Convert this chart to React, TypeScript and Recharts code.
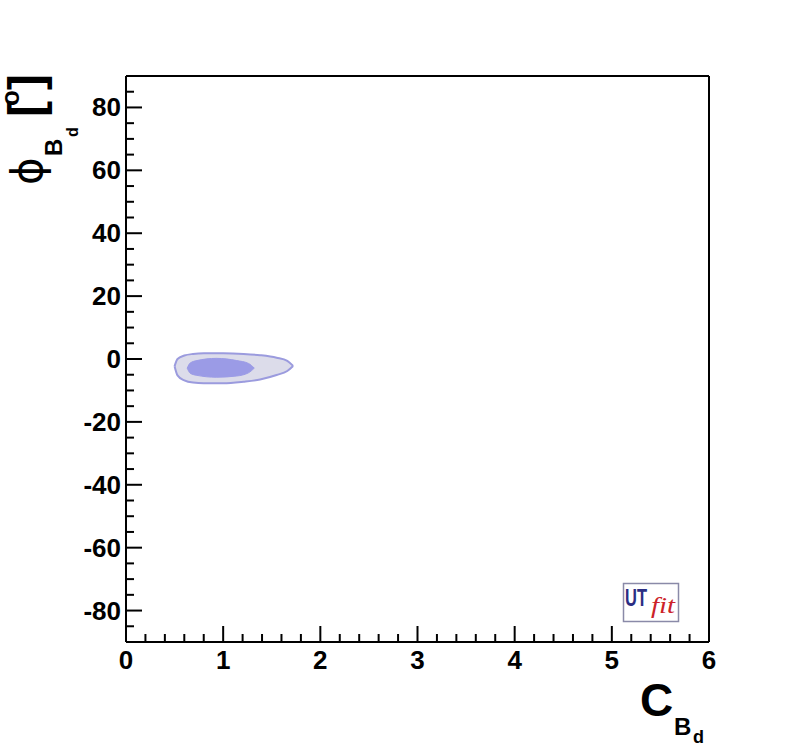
import { ComposedChart, Area, XAxis, YAxis, ReferenceLine } from "recharts";

// contour x positions (C_Bd) and y ranges (phi_Bd, degrees)
const contourX = [0.5, 0.53, 0.6, 0.63, 0.66, 0.69, 0.73, 0.8, 0.93, 1.0, 1.14, 1.21, 1.26, 1.32, 1.38, 1.55, 1.66, 1.72];
const outerRange: ([number, number] | null)[] = [
  [-2.3, -2.3], [-5.2, 0.0], [-6.8, 1.1], null, null, [-7.5, 1.6], null, [-7.7, 1.8], null,
  [-7.7, 1.8], null, [-7.2, 1.6], null, null, [-6.5, 1.2], [-5.1, 0.4], [-3.8, -0.6], [-2.2, -2.2],
];
const innerRange: ([number, number] | null)[] = [
  null, null, null, [-2.9, -2.9], [-4.5, -1.3], null, [-5.2, -0.5], null, [-5.8, 0.2],
  null, [-5.4, -0.5], null, [-4.4, -1.4], [-2.9, -2.9], null, null, null, null,
];

const xTicks = [
  0, 0.2, 0.4, 0.6, 0.8, 1, 1.2, 1.4, 1.6, 1.8, 2, 2.2, 2.4, 2.6, 2.8, 3, 3.2, 3.4, 3.6, 3.8,
  4, 4.2, 4.4, 4.6, 4.8, 5, 5.2, 5.4, 5.6, 5.8, 6,
];
const yTicks = [
  -85, -80, -75, -70, -65, -60, -55, -50, -45, -40, -35, -30, -25, -20, -15, -10, -5, 0,
  5, 10, 15, 20, 25, 30, 35, 40, 45, 50, 55, 60, 65, 70, 75, 80, 85,
];
const yMajor = [-80, -60, -40, -20, 0, 20, 40, 60, 80];

const data = contourX.map((x, i) => ({ x, outer: outerRange[i], inner: innerRange[i] }));

const FONT = "'Liberation Sans', Arial, Helvetica, sans-serif";

const XTick = (props: any) => {
  const { x, y, payload } = props;
  const v = payload.value;
  const major = Number.isInteger(v);
  return (
    <g>
      <line x1={x} y1={y} x2={x} y2={y - (major ? 16 : 8)} stroke="#000" strokeWidth={2} />
      {major && (
        <text x={x} y={y + 27} textAnchor="middle" fontSize={26} fontWeight="bold" fontFamily={FONT} fill="#000">
          {v}
        </text>
      )}
    </g>
  );
};

const YTick = (props: any) => {
  const { x, y, payload } = props;
  const v = payload.value;
  const major = yMajor.includes(v);
  return (
    <g>
      <line x1={x} y1={y} x2={x + (major ? 16 : 8)} y2={y} stroke="#000" strokeWidth={2} />
      {major && (
        <text x={x - 5} y={y + 9} textAnchor="end" fontSize={26} fontWeight="bold" fontFamily={FONT} fill="#000">
          {v}
        </text>
      )}
    </g>
  );
};

export default function App() {
  return (
    <div style={{ position: "absolute", left: 0, top: 0, width: 788, height: 756, background: "#fff" }}>
      <ComposedChart
        width={788}
        height={756}
        data={data}
        margin={{ top: 76, right: 79, bottom: 0, left: 0 }}
      >
        <XAxis
          dataKey="x"
          type="number"
          domain={[0, 6]}
          ticks={xTicks}
          interval={0}
          allowDataOverflow
          height={114}
          tickSize={0}
          tickMargin={0}
          tickLine={false}
          axisLine={{ stroke: "#000", strokeWidth: 2 }}
          tick={<XTick />}
        />
        <YAxis
          type="number"
          domain={[-90, 90]}
          ticks={yTicks}
          interval={0}
          allowDataOverflow
          width={126}
          tickSize={0}
          tickMargin={0}
          tickLine={false}
          axisLine={{ stroke: "#000", strokeWidth: 2 }}
          tick={<YTick />}
        />
        <Area
          dataKey="outer"
          type="monotone"
          connectNulls
          fill="#dcdcea"
          fillOpacity={1}
          stroke="#9b9bde"
          strokeWidth={2}
          dot={false}
          activeDot={false}
          isAnimationActive={false}
        />
        <Area
          dataKey="inner"
          type="monotone"
          connectNulls
          fill="#9b9be6"
          fillOpacity={1}
          stroke="#9b9be6"
          strokeWidth={1}
          dot={false}
          activeDot={false}
          isAnimationActive={false}
        />
        <ReferenceLine y={90} stroke="#000" strokeWidth={2} />
        <ReferenceLine x={6} stroke="#000" strokeWidth={2} />
      </ComposedChart>

      <svg
        width={788}
        height={756}
        style={{ position: "absolute", left: 0, top: 0, pointerEvents: "none" }}
      >
        {/* y title: phi_{B_d} [o] */}
        <g fontFamily={FONT} fill="#000">
          <text transform="translate(42,185) rotate(-90)" fontSize={42} fontFamily="'DejaVu Sans', sans-serif">ϕ</text>
          <text transform="translate(62,156) rotate(-90)" fontSize={24} fontWeight="bold">B</text>
          <text transform="translate(78,137) rotate(-90)" fontSize={16} fontWeight="bold">d</text>
          <text transform="translate(42,117) rotate(-90)" fontSize={48} fontWeight="bold">[</text>
          <text transform="translate(19,106) rotate(-90)" fontSize={26} fontWeight="bold">o</text>
          <text transform="translate(42,90) rotate(-90)" fontSize={48} fontWeight="bold">]</text>
        </g>
        {/* x title: C_{B_d} */}
        <g fontFamily={FONT} fill="#000" fontWeight="bold">
          <text x={640} y={716} fontSize={46}>C</text>
          <text x={674} y={735} fontSize={24}>B</text>
          <text x={693} y={743} fontSize={18}>d</text>
        </g>
        {/* UTfit logo */}
        <g>
          <rect x={623.5} y={583.5} width={55} height={38} fill="#fff" stroke="#8a8aa8" strokeWidth={1.5} />
          <text x={625} y={606} fontSize={23} fontWeight="bold" fontFamily={FONT} fill="#2b2e83" textLength={22} lengthAdjust="spacingAndGlyphs">
            UT
          </text>
          <text x={651} y={613} fontSize={24} fontStyle="italic" fontFamily="'Liberation Serif', 'Times New Roman', serif" fill="#cc2229" textLength={24} lengthAdjust="spacingAndGlyphs">
            fit
          </text>
        </g>
      </svg>
    </div>
  );
}
